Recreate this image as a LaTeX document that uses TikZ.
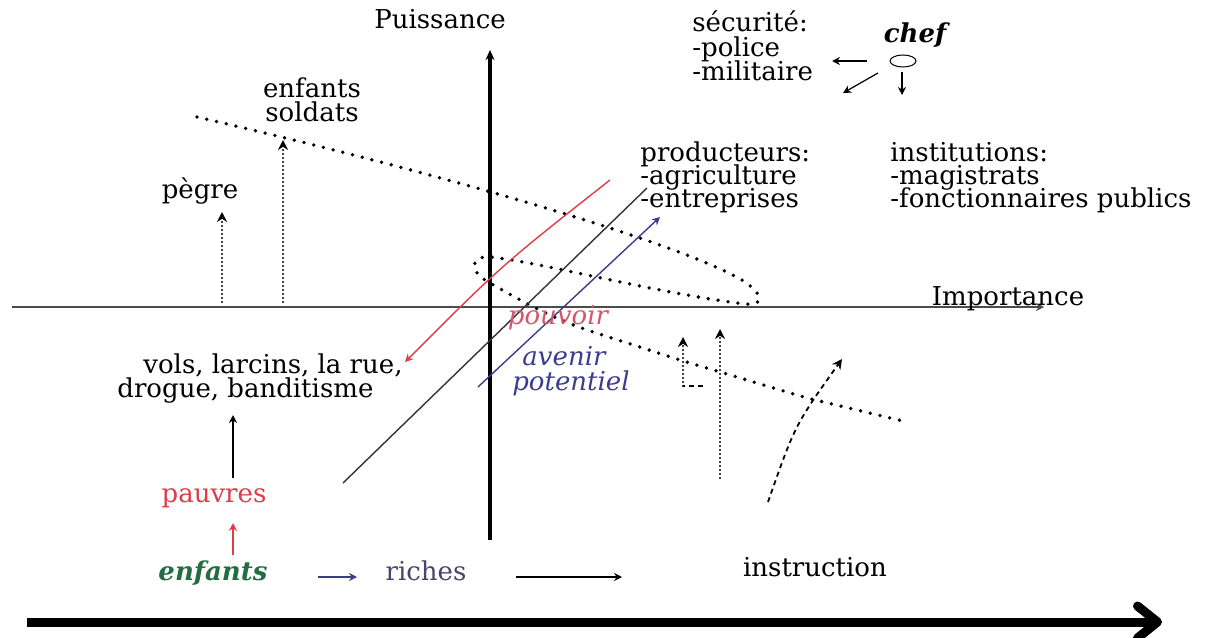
\documentclass[tikz,border=0pt]{standalone}
\usepackage{fontspec}
\setmainfont{DejaVu Serif}
\usetikzlibrary{arrows.meta,positioning,shapes.geometric}

\definecolor{rougeP}{RGB}{222,60,72}
\definecolor{roseP}{RGB}{215,85,105}
\definecolor{bleuA}{RGB}{60,60,140}
\definecolor{vertE}{RGB}{35,110,65}
\definecolor{grisR}{RGB}{70,70,105}
\definecolor{grisAxe}{RGB}{75,75,75}

\tikzset{
  lbl/.style={font=\fontsize{13}{12}\selectfont, inner sep=0pt},
  pointille/.style={line width=1.9pt, line cap=round, dash pattern=on 0pt off 5pt},
  tigepoint/.style={line width=1.1pt, line cap=round, dash pattern=on 0pt off 2pt},
  tirets/.style={line width=0.9pt, dash pattern=on 2.5pt off 2pt},
  fleche/.style={-{Stealth[length=5pt,width=5pt]}},
}

\begin{document}
\begin{tikzpicture}[x=0.5pt, y=-0.5pt, >={Stealth[length=4pt,width=4pt]}]
\useasboundingbox (0,0) rectangle (1215,637);

% 1. axes
\coordinate (axeG) at (12,307);
\coordinate (axeD) at (1044,307);
\coordinate (axeB) at (490,540);
\coordinate (axeH) at (490,50);
\draw[grisAxe, line width=1.4pt, ->] (axeG) -- (axeD);
\draw[line width=1.6pt, -{Stealth[length=5pt,width=4.5pt]}] (axeB) -- (axeH);
\node[lbl, anchor=base] (puissance) at (440,28) {Puissance};
\node[lbl, anchor=base] (importance) at (1008,305) {Importance};

% 2. courbe pointillee (grande ligne + boucle)
\draw[pointille] (197,117) .. controls (470,180) and (700,250) .. (748,284)
  .. controls (765,298) and (762,305) .. (745,304)
  .. controls (650,292) and (540,262) .. (490,257)
  .. controls (468,256) and (470,273) .. (490,283)
  .. controls (520,300) and (545,315) .. (587,330)
  -- (680,360) -- (807,398) -- (907,422);

% 3. diagonales
\coordinate (rougeH) at (610,180);
\coordinate (rougeB) at (405,362);
\coordinate (noirH) at (647,188);
\coordinate (noirB) at (343,483);
\coordinate (bleuB) at (478,387);
\coordinate (bleuH) at (660,217);
\draw[rougeP, line width=0.7pt, ->] (rougeH) .. controls (502,265) .. (rougeB);
\draw[black!80, line width=0.7pt] (noirB) -- (noirH);
\draw[bleuA, line width=0.7pt, ->] (bleuB) -- (bleuH);
\node[lbl, anchor=base, text=roseP, font=\fontsize{13}{12}\selectfont\itshape] (pouvoir) at (558,324) {pouvoir};
\node[lbl, anchor=base, text=bleuA, font=\fontsize{13}{12}\selectfont\itshape] (avenir) at (564,365) {avenir};
\node[lbl, anchor=base, text=bleuA, font=\fontsize{13}{12}\selectfont\itshape] (potentiel) at (571,390) {potentiel};

% 4. chef et ses branches
\node[lbl, anchor=base, font=\fontsize{13}{12}\selectfont\bfseries\itshape] (chef) at (915,42) {chef};
\node[ellipse, draw, line width=0.5pt, minimum width=13pt, minimum height=6pt, inner sep=0pt] (rond) at (903,61) {};
\node[lbl, anchor=base west] (secu) at (692,32) {sécurité:};
\node[lbl, anchor=base west] (police) at (692,56) {-police};
\node[lbl, anchor=base west] (militaire) at (692,80) {-militaire};
\coordinate (chefG1) at (867,61);
\coordinate (chefG2) at (832,61);
\coordinate (chefD1) at (878,73);
\coordinate (chefD2) at (843,93);
\coordinate (chefB1) at (902,72);
\coordinate (chefB2) at (902,95);
\draw[line width=0.6pt, ->] (chefG1) -- (chefG2);
\draw[line width=0.6pt, ->] (chefD1) -- (chefD2);
\draw[line width=0.6pt, ->] (chefB1) -- (chefB2);

\node[lbl, anchor=base west] (prod) at (640,161) {producteurs:};
\node[lbl, anchor=base west] (agri) at (640,184) {-agriculture};
\node[lbl, anchor=base west] (entr) at (640,207) {-entreprises};
\node[lbl, anchor=base west] (instit) at (890,161) {institutions:};
\node[lbl, anchor=base west] (magis) at (890,184) {-magistrats};
\node[lbl, anchor=base west] (fonct) at (890,207) {-fonctionnaires publics};

% 5. cote gauche : pegre, enfants soldats
\node[lbl, anchor=base] (soldats1) at (312,97) {enfants};
\node[lbl, anchor=base] (soldats2) at (312,121) {soldats};
\node[lbl, anchor=base] (pegre) at (200,198) {pègre};
\coordinate (pegreB) at (222,302);
\coordinate (pegreH) at (222,212);
\coordinate (soldB) at (283,302);
\coordinate (soldH) at (283,140);
\draw[tigepoint, fleche] (pegreB) -- (pegreH);
\draw[tigepoint, fleche] (soldB) -- (soldH);

% 6. cote droit : fleches pointillees
\coordinate (lBout) at (703,386);
\coordinate (lCoin) at (683,386);
\coordinate (lHaut) at (683,337);
\coordinate (vBas) at (720,478);
\coordinate (vHaut) at (720,329);
\coordinate (cBas) at (768,502);
\coordinate (cHaut) at (842,359);
\draw[tirets] (lBout) -- (lCoin);
\draw[tigepoint, fleche] (lCoin) -- (lHaut);
\draw[tigepoint, fleche] (vBas) -- (vHaut);
\draw[tirets, fleche] (cBas) .. controls (795,425) .. (cHaut);

% 7. bas : enfants, pauvres, riches, instruction
\node[lbl, anchor=base west] (vols1) at (143,373) {vols, larcins, la rue,};
\node[lbl, anchor=base west] (vols2) at (117,397) {drogue, banditisme};
\node[lbl, anchor=base, text=rougeP] (pauvres) at (214,502) {pauvres};
\node[lbl, anchor=base, text=vertE, font=\fontsize{13}{12}\selectfont\bfseries\itshape] (enfants) at (213,580) {enfants};
\node[lbl, anchor=base, text=grisR] (riches) at (426,580) {riches};
\node[lbl, anchor=base] (instruction) at (815,576) {instruction};
\coordinate (pauvB) at (233,478);
\coordinate (pauvH) at (233,415);
\coordinate (enfB) at (233,555);
\coordinate (enfH) at (233,523);
\coordinate (richG) at (318,577);
\coordinate (richD) at (357,577);
\coordinate (instG) at (516,577);
\coordinate (instD) at (622,577);
\draw[line width=0.7pt, ->] (pauvB) -- (pauvH);
\draw[rougeP, line width=0.7pt, ->] (enfB) -- (enfH);
\draw[bleuA, line width=0.7pt, ->] (richG) -- (richD);
\draw[line width=0.7pt, ->] (instG) -- (instD);

% 8. grande fleche du bas
\coordinate (flecheG) at (27,622);
\coordinate (flecheD) at (1162,622);
\draw[line width=4.5pt, -{Straight Barb[length=10pt,width=16pt,round]}] (flecheG) -- (flecheD);
\end{tikzpicture}
\end{document}
